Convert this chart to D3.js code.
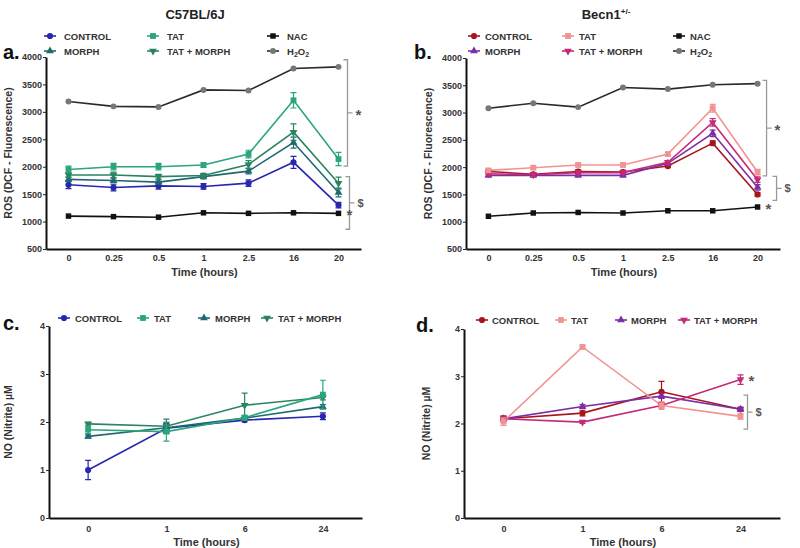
<!DOCTYPE html>
<html>
<head>
<meta charset="utf-8">
<script src="https://cdn.jsdelivr.net/npm/d3@7"></script>
<style>
  body { margin: 0; background: #fff; }
  text { font-family: "Liberation Sans", Arial, sans-serif; }
</style>
</head>
<body>
<svg width="800" height="548"></svg>
<script>
// categories / ticks
var rosTimes = ["0", "0.25", "0.5", "1", "2.5", "16", "20"];
var noTimes = ["0", "1", "6", "24"];
var rosTicks = [500, 1000, 1500, 2000, 2500, 3000, 3500, 4000];
var noTicks = [0, 1, 2, 3, 4];

// panel a - C57BL/6J ROS
var aControl = [1670, 1620, 1650, 1640, 1700, 2080, 1300];
var aControlErr = [70, 60, 60, 50, 60, 110, 50];
var aTat = [1950, 2000, 2000, 2030, 2230, 3210, 2140];
var aTatErr = [60, 60, 60, 40, 70, 140, 120];
var aMorph = [1770, 1750, 1720, 1820, 1920, 2440, 1530];
var aMorphErr = [40, 40, 40, 40, 50, 100, 80];
var aTatMorph = [1850, 1850, 1820, 1840, 2040, 2630, 1700];
var aTatMorphErr = [40, 50, 40, 40, 70, 150, 110];
var aNac = [1100, 1090, 1080, 1160, 1150, 1160, 1150];
var aH2o2 = [3190, 3100, 3090, 3400, 3390, 3790, 3820];

// panel b - Becn1+/- ROS
var bControl = [1920, 1870, 1920, 1910, 2020, 2440, 1500];
var bControlErr = [30, 30, 30, 30, 30, 40, 30];
var bTat = [1940, 1990, 2040, 2040, 2240, 3080, 1910];
var bTatErr = [30, 30, 30, 30, 30, 70, 50];
var bMorph = [1850, 1850, 1850, 1850, 2070, 2620, 1630];
var bMorphErr = [30, 30, 30, 30, 30, 60, 50];
var bTatMorph = [1880, 1860, 1900, 1900, 2090, 2820, 1770];
var bTatMorphErr = [30, 30, 30, 30, 30, 70, 50];
var bNac = [1100, 1160, 1170, 1160, 1200, 1200, 1270];
var bH2o2 = [3080, 3170, 3100, 3460, 3430, 3510, 3530];

// panel c - C57BL/6J NO
var cControl = [1.0, 1.87, 2.04, 2.12];
var cControlErr = [0.2, 0.1, 0.04, 0.07];
var cTat = [1.84, 1.80, 2.09, 2.57];
var cTatErr = [0.08, 0.2, 0.05, 0.3];
var cMorph = [1.70, 1.88, 2.08, 2.32];
var cMorphErr = [0.03, 0.1, 0.04, 0.04];
var cTatMorph = [1.96, 1.91, 2.35, 2.51];
var cTatMorphErr = [0.04, 0.15, 0.25, 0.05];

// panel d - Becn1+/- NO
var dControl = [2.1, 2.22, 2.67, 2.3];
var dControlErr = [0.06, 0.06, 0.22, 0.04];
var dTat = [2.04, 3.62, 2.38, 2.15];
var dTatErr = [0.08, 0.03, 0.08, 0.06];
var dMorph = [2.1, 2.36, 2.58, 2.3];
var dMorphErr = [0.04, 0.04, 0.05, 0.04];
var dTatMorph = [2.1, 2.03, 2.38, 2.93];
var dTatMorphErr = [0.03, 0.03, 0.05, 0.1];

var svg = d3.select("svg");

var symCircle = { type: d3.symbolCircle, rot: 0 };
var symSquare = { type: d3.symbolSquare, rot: 0 };
var symUp = { type: d3.symbolTriangle, rot: 0 };
var symDown = { type: d3.symbolTriangle, rot: 180 };

var panels = [
  {
    letter: "a.", letterX: 3, letterY: 59,
    title: "C57BL/6J", titleX: 195,
    times: rosTimes, ticks: rosTicks, domain: [500, 4000],
    xRange: [46, 361], yRange: [249, 57],
    yLabel: "ROS (DCF - Fluorescence)", yLabelX: 12,
    xLabelY: 276, tickLabelY: 261,
    series: [
      { name: "H2O2", vals: aH2o2, color: "#777", line: "#2a2a2a", sym: symCircle, size: 28 },
      { name: "NAC", vals: aNac, color: "#111", line: "#111", sym: symSquare, size: 30 },
      { name: "CONTROL", vals: aControl, err: aControlErr, color: "#2727b0", sym: symCircle, size: 30 },
      { name: "MORPH", vals: aMorph, err: aMorphErr, color: "#1f6a72", sym: symUp, size: 26 },
      { name: "TAT + MORPH", vals: aTatMorph, err: aTatMorphErr, color: "#2a8460", sym: symDown, size: 26 },
      { name: "TAT", vals: aTat, err: aTatErr, color: "#2aa678", sym: symSquare, size: 34 }
    ],
    legend: [
      ["CONTROL", 50, 36], ["TAT", 153, 36], ["NAC", 273, 36],
      ["MORPH", 50, 51], ["TAT + MORPH", 153, 51], ["H2O2", 273, 51]
    ],
    legendTextDx: 14,
    brackets: [
      { top: 3950, bottom: 2010, dx: 9, label: "*" },
      { top: 1820, bottom: 860, dx: 11, label: "$" }
    ],
    stars: [{ value: 1150, dx: 10 }]
  },
  {
    letter: "b.", letterX: 414, letterY: 59,
    title: "Becn1", titleSup: "+/-", titleX: 606,
    times: rosTimes, ticks: rosTicks, domain: [500, 4000],
    xRange: [466, 780], yRange: [249, 58],
    yLabel: "ROS (DCF - Fluorescence)", yLabelX: 432,
    xLabelY: 276, tickLabelY: 261,
    series: [
      { name: "H2O2", vals: bH2o2, color: "#777", line: "#2a2a2a", sym: symCircle, size: 28 },
      { name: "NAC", vals: bNac, color: "#111", line: "#111", sym: symSquare, size: 30 },
      { name: "CONTROL", vals: bControl, err: bControlErr, color: "#a8141c", sym: symCircle, size: 30 },
      { name: "MORPH", vals: bMorph, err: bMorphErr, color: "#7b2ea6", sym: symUp, size: 26 },
      { name: "TAT + MORPH", vals: bTatMorph, err: bTatMorphErr, color: "#c42a78", sym: symDown, size: 26 },
      { name: "TAT", vals: bTat, err: bTatErr, color: "#f29393", sym: symSquare, size: 34 }
    ],
    legend: [
      ["CONTROL", 474, 36], ["TAT", 568, 36], ["NAC", 679, 36],
      ["MORPH", 474, 51], ["TAT + MORPH", 568, 51], ["H2O2", 679, 51]
    ],
    legendTextDx: 11,
    brackets: [
      { top: 3590, bottom: 1840, dx: 9, label: "*" },
      { top: 1830, bottom: 1390, dx: 19, label: "$" }
    ],
    stars: [{ value: 1270, dx: 10 }]
  },
  {
    letter: "c.", letterX: 3, letterY: 330,
    times: noTimes, ticks: noTicks, domain: [0, 4],
    xRange: [49, 362], yRange: [518, 326],
    yLabel: "NO (Nitrite) µM", yLabelX: 12,
    xLabelY: 546, tickLabelY: 532,
    series: [
      { name: "CONTROL", vals: cControl, err: cControlErr, color: "#2727b0", sym: symCircle, size: 30 },
      { name: "MORPH", vals: cMorph, err: cMorphErr, color: "#1f6a72", sym: symUp, size: 26 },
      { name: "TAT + MORPH", vals: cTatMorph, err: cTatMorphErr, color: "#2a8460", sym: symDown, size: 26 },
      { name: "TAT", vals: cTat, err: cTatErr, color: "#2aa678", sym: symSquare, size: 34 }
    ],
    legend: [
      ["CONTROL", 64, 318], ["TAT", 143, 318], ["MORPH", 204, 318], ["TAT + MORPH", 267, 318]
    ],
    legendTextDx: 11,
    brackets: [],
    stars: []
  },
  {
    letter: "d.", letterX: 416, letterY: 332,
    times: noTimes, ticks: noTicks, domain: [0, 4],
    xRange: [464, 780], yRange: [518, 329],
    yLabel: "NO (Nitrite) µM", yLabelX: 430,
    xLabelY: 546, tickLabelY: 532,
    series: [
      { name: "CONTROL", vals: dControl, err: dControlErr, color: "#a8141c", sym: symCircle, size: 30 },
      { name: "MORPH", vals: dMorph, err: dMorphErr, color: "#7b2ea6", sym: symUp, size: 26 },
      { name: "TAT + MORPH", vals: dTatMorph, err: dTatMorphErr, color: "#c42a78", sym: symDown, size: 26 },
      { name: "TAT", vals: dTat, err: dTatErr, color: "#f29393", sym: symSquare, size: 34 }
    ],
    legend: [
      ["CONTROL", 482, 320], ["TAT", 561, 320], ["MORPH", 621, 320], ["TAT + MORPH", 684, 320]
    ],
    legendTextDx: 10,
    brackets: [{ top: 2.6, bottom: 1.88, dx: 7, label: "$" }],
    stars: [{ value: 2.95, dx: 10, dy: 0 }]
  }
];

function drawSymbol(g, s, cx, cy) {
  g.append("path")
    .attr("d", d3.symbol().type(s.sym.type).size(s.size)())
    .attr("transform", "translate(" + cx + "," + cy + ") rotate(" + s.sym.rot + ")")
    .attr("fill", s.color);
}

function labelText(sel, name) {
  if (name === "H2O2") {
    sel.append("tspan").text("H");
    sel.append("tspan").attr("font-size", "7px").attr("dy", 2).text("2");
    sel.append("tspan").attr("dy", -2).text("O");
    sel.append("tspan").attr("font-size", "7px").attr("dy", 2).text("2");
  } else {
    sel.text(name);
  }
}

panels.forEach(function(p) {
  var x = d3.scalePoint().domain(p.times).range(p.xRange).padding(0.5);
  var y = d3.scaleLinear().domain(p.domain).range(p.yRange);
  var g = svg.append("g");

  // axes
  var yAxis = d3.axisLeft(y).tickValues(p.ticks).tickFormat(d3.format("d"))
    .tickSize(3).tickSizeOuter(0);
  var yG = g.append("g").attr("transform", "translate(" + p.xRange[0] + ",0)").call(yAxis);
  var xAxis = d3.axisBottom(x).tickSize(0).tickSizeOuter(0);
  var xG = g.append("g").attr("transform", "translate(0," + p.yRange[0] + ")").call(xAxis);

  [yG, xG].forEach(function(a) {
    a.select(".domain").attr("stroke", "#111").attr("stroke-width", 2);
    a.selectAll(".tick line").attr("stroke", "#222").attr("stroke-width", 1);
    a.selectAll(".tick text")
      .attr("fill", "#333")
      .style("font-size", "9px")
      .style("font-weight", "bold")
      .style("font-family", "'Liberation Sans', Arial, sans-serif");
  });
  yG.selectAll(".tick text").attr("x", -4);
  xG.selectAll(".tick text").attr("y", 0).attr("dy", 0)
    .attr("transform", "translate(0," + (p.tickLabelY - p.yRange[0]) + ")");

  // axis titles
  g.append("text")
    .attr("x", (p.xRange[0] + p.xRange[1]) / 2 + 1)
    .attr("y", p.xLabelY)
    .attr("text-anchor", "middle")
    .style("font-size", "11px")
    .style("font-weight", "bold")
    .attr("fill", "#333")
    .text("Time (hours)");

  g.append("text")
    .attr("text-anchor", "middle")
    .style("font-size", "10.5px")
    .style("font-weight", "bold")
    .attr("fill", "#333")
    .attr("transform", "translate(" + p.yLabelX + "," + ((p.yRange[0] + p.yRange[1]) / 2) + ") rotate(270)")
    .text(p.yLabel);

  // panel letter
  g.append("text")
    .attr("x", p.letterX).attr("y", p.letterY)
    .style("font-size", "20px").style("font-weight", "bold")
    .attr("fill", "#111")
    .text(p.letter);

  // title
  if (p.title) {
    var t = g.append("text")
      .attr("x", p.titleX).attr("y", 19)
      .attr("text-anchor", "middle")
      .style("font-size", "13px").style("font-weight", "bold")
      .attr("fill", "#222");
    t.append("tspan").text(p.title);
    if (p.titleSup) {
      t.append("tspan").attr("dy", -5).style("font-size", "8px").text(p.titleSup);
    }
  }

  // lines
  var line = d3.line()
    .x(function(d, i) { return x(p.times[i]); })
    .y(function(d) { return y(d); });

  p.series.forEach(function(s) {
    g.append("path")
      .datum(s.vals)
      .attr("d", line)
      .attr("fill", "none")
      .attr("stroke", s.line || s.color)
      .attr("stroke-width", 1.6);
  });

  // error bars and markers
  p.series.forEach(function(s) {
    s.vals.forEach(function(v, i) {
      var cx = x(p.times[i]);
      if (s.err) {
        var e = s.err[i];
        g.append("path")
          .attr("d", "M" + cx + "," + y(v - e) + "V" + y(v + e) +
            "M" + (cx - 3) + "," + y(v + e) + "H" + (cx + 3) +
            "M" + (cx - 3) + "," + y(v - e) + "H" + (cx + 3))
          .attr("stroke", s.color)
          .attr("stroke-width", 1.2)
          .attr("fill", "none");
      }
      drawSymbol(g, s, cx, y(v));
    });
  });

  // legend
  p.legend.forEach(function(l) {
    var s = p.series.find(function(d) { return d.name === l[0]; });
    g.append("line")
      .attr("x1", l[1] - 6).attr("x2", l[1] + 6)
      .attr("y1", l[2]).attr("y2", l[2])
      .attr("stroke", s.line || s.color).attr("stroke-width", 1.6);
    drawSymbol(g, s, l[1], l[2]);
    var tx = g.append("text")
      .attr("x", l[1] + p.legendTextDx).attr("y", l[2] + 3.5)
      .style("font-size", "9.5px").style("font-weight", "bold")
      .attr("fill", "#333");
    labelText(tx, l[0]);
  });

  // significance brackets
  var lastX = x(p.times[p.times.length - 1]);
  p.brackets.forEach(function(b) {
    var bx = lastX + b.dx;
    var y0 = y(b.top), y1 = y(b.bottom), ym = (y0 + y1) / 2;
    g.append("path")
      .attr("d", "M" + (bx - 4) + "," + y0 + "H" + bx + "V" + y1 + "H" + (bx - 4) +
        "M" + bx + "," + ym + "H" + (bx + 5))
      .attr("stroke", "#999").attr("stroke-width", 1.3).attr("fill", "none");
    g.append("text")
      .attr("x", bx + 8).attr("y", ym + (b.label === "*" ? 7 : 4))
      .style("font-size", b.label === "*" ? "15px" : "11px")
      .style("font-weight", "bold")
      .attr("fill", "#555")
      .text(b.label);
  });
  p.stars.forEach(function(st) {
    g.append("text")
      .attr("x", lastX + st.dx - 2).attr("y", y(st.value) + 7)
      .style("font-size", "15px").style("font-weight", "bold")
      .attr("fill", "#555")
      .text("*");
  });
});
</script>
</body>
</html>
